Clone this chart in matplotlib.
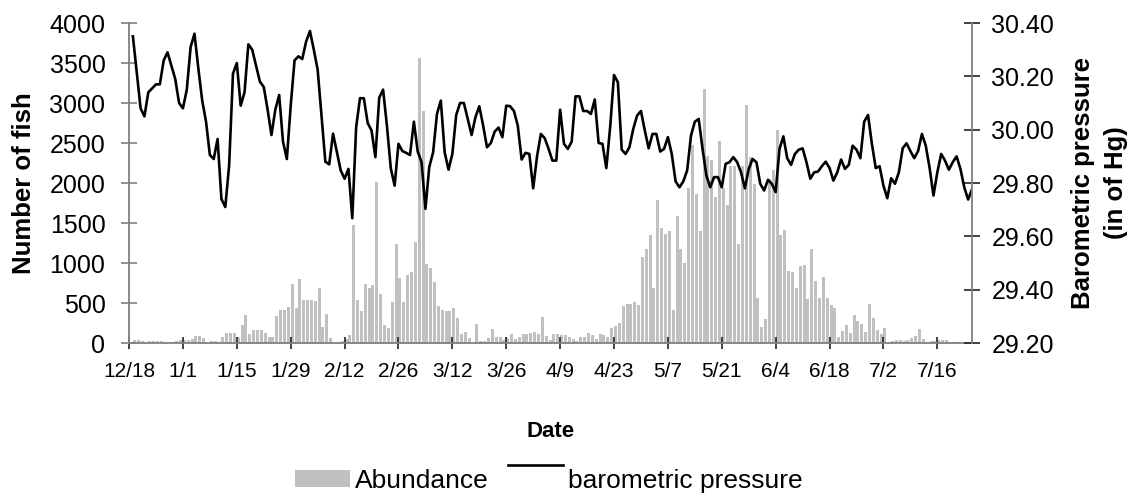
import matplotlib.pyplot as plt
import numpy as np
import pandas as pd
from matplotlib.lines import Line2D
from matplotlib.legend_handler import HandlerLine2D

plt.rcParams['font.family'] = ['Liberation Sans', 'DejaVu Sans']

# daily counts and pressure, starting 12/19
start = pd.Timestamp('2002-12-18')
abundance = [
    37, 37, 25, 12, 25, 25, 25, 25, 12, 12, 12, 20, 37, 37,
    37, 50, 92, 92, 62, 0, 25, 25, 8, 75, 125, 125, 125, 75,
    225, 350, 112, 162, 162, 162, 125, 79, 79, 337, 412, 412, 450, 737,
    437, 800, 542, 542, 542, 529, 687, 204, 362, 62, 0, 12, 20, 46,
    100, 1475, 537, 400, 737, 687, 725, 2017, 612, 225, 187, 512, 1237, 812,
    512, 850, 887, 1262, 3560, 2900, 987, 937, 762, 462, 412, 400, 400, 437,
    312, 112, 137, 62, 0, 237, 20, 20, 62, 175, 75, 75, 37, 62,
    112, 50, 75, 112, 112, 125, 137, 112, 325, 87, 37, 112, 112, 100,
    100, 75, 50, 25, 75, 75, 125, 100, 50, 112, 100, 75, 187, 212,
    250, 462, 487, 487, 512, 475, 1075, 1175, 1350, 687, 1787, 1437, 1362, 1400,
    412, 1587, 1175, 1000, 1937, 2471, 1862, 1400, 3179, 2333, 2283, 1825, 2521, 1937,
    1721, 2213, 2213, 1242, 2213, 2971, 2325, 1992, 562, 200, 296, 2054, 2158, 2658,
    1350, 1412, 900, 883, 687, 962, 971, 550, 1175, 775, 560, 821, 560, 475,
    437, 79, 150, 221, 125, 350, 275, 233, 137, 483, 308, 158, 110, 183,
    0, 21, 33, 33, 21, 33, 62, 87, 175, 50, 12, 21, 21, 33,
    33, 33, 8, 8, 8, 0, 0, 0, 0,
]
pressure = [
    30.35, 30.215, 30.08, 30.05, 30.14, 30.155, 30.17, 30.17, 30.26, 30.29, 30.24, 30.19, 30.10, 30.08,
    30.15, 30.31, 30.36, 30.23, 30.11, 30.03, 29.905, 29.89, 29.965, 29.74, 29.71, 29.865, 30.21, 30.25,
    30.09, 30.14, 30.32, 30.30, 30.24, 30.18, 30.16, 30.075, 29.98, 30.075, 30.13, 29.955, 29.89, 30.09,
    30.26, 30.275, 30.265, 30.33, 30.37, 30.30, 30.225, 30.05, 29.88, 29.87, 29.985, 29.915, 29.847, 29.816,
    29.853, 29.668, 30.009, 30.118, 30.118, 30.025, 29.997, 29.897, 30.12, 30.15, 30.015, 29.856, 29.79, 29.947,
    29.92, 29.913, 29.905, 30.03, 29.918, 29.878, 29.703, 29.86, 29.915, 30.059, 30.109, 29.915, 29.85, 29.909,
    30.055, 30.10, 30.10, 30.04, 29.98, 30.047, 30.088, 30.015, 29.934, 29.95, 29.993, 30.008, 29.972, 30.09,
    30.088, 30.07, 30.015, 29.888, 29.913, 29.909, 29.78, 29.90, 29.984, 29.968, 29.928, 29.884, 29.884, 30.075,
    29.947, 29.928, 29.955, 30.125, 30.125, 30.07, 30.07, 30.059, 30.113, 29.95, 29.947, 29.856, 30.01, 30.205,
    30.178, 29.925, 29.909, 29.934, 30.003, 30.053, 30.07, 29.997, 29.93, 29.984, 29.984, 29.918, 29.928, 29.972,
    29.909, 29.806, 29.784, 29.806, 29.847, 29.978, 30.03, 30.04, 29.928, 29.828, 29.784, 29.822, 29.822, 29.784,
    29.872, 29.878, 29.897, 29.878, 29.84, 29.78, 29.853, 29.89, 29.878, 29.797, 29.772, 29.812, 29.797, 29.766,
    29.928, 29.975, 29.893, 29.868, 29.909, 29.925, 29.93, 29.878, 29.816, 29.84, 29.843, 29.863, 29.88, 29.856,
    29.809, 29.84, 29.888, 29.853, 29.868, 29.94, 29.925, 29.893, 30.03, 30.055, 29.947, 29.856, 29.863, 29.79,
    29.743, 29.818, 29.797, 29.84, 29.93, 29.949, 29.92, 29.893, 29.92, 29.984, 29.94, 29.856, 29.753, 29.84,
    29.909, 29.884, 29.85, 29.878, 29.90, 29.853, 29.784, 29.738, 29.776,
]

days = np.arange(1, len(pressure) + 1)
tick_days = np.arange(0, 211, 14)
tick_labels = [f"{t.month}/{t.day}" for t in start + pd.to_timedelta(tick_days, unit='D')]
p_ticks = np.arange(29.2, 30.41, 0.2)

grey = '#808080'


class TopLine(HandlerLine2D):
    # legend line sits a little above the top of the bar swatch
    def create_artists(self, legend, orig_handle, xdescent, ydescent,
                       width, height, fontsize, trans):
        artists = super().create_artists(legend, orig_handle, xdescent, ydescent,
                                         width, height, fontsize, trans)
        for a in artists:
            a.set_ydata(np.full(len(a.get_xdata()), height * 1.35))
        return artists


fig = plt.figure(figsize=(11.38, 4.98), dpi=100)
ax = fig.add_axes([0.1134, 0.3112, 0.7407, 0.6426])

bars = ax.bar(days + 0.38, abundance, width=0.78, color='#c0c0c0', linewidth=0)
ax.set_xlim(0, 219)
ax.set_ylim(0, 4000)
ax.set_yticks(np.arange(0, 4001, 500))
ax.set_xticks(tick_days)
ax.set_xticklabels(tick_labels)

ax2 = ax.twinx()
line, = ax2.plot(days, pressure, color='black', lw=1.9)
ax2.set_ylim(29.2, 30.4)
ax2.set_yticks(p_ticks)
ax2.set_yticklabels([f"{v:.2f}" for v in p_ticks])

for a in (ax, ax2):
    for s in a.spines.values():
        s.set_visible(False)
for s in (ax.spines['left'], ax.spines['bottom'], ax2.spines['right']):
    s.set_visible(True)
    s.set_color(grey)
    s.set_linewidth(1.3)

ax.tick_params(axis='y', direction='inout', length=12, width=1.2, color=grey,
               labelsize=18, pad=11)
ax.tick_params(axis='x', direction='inout', length=9, width=1.2, color='#222222',
               labelsize=15, pad=9)
ax2.tick_params(axis='y', direction='inout', length=12, width=1.2, color='#222222',
                labelsize=18, pad=8)

ax.set_ylabel('Number of fish', fontsize=18.5, fontweight='bold')
ax.yaxis.set_label_coords(-0.110, 0.5)
ax2.set_ylabel('Barometric pressure\n(in of Hg)', fontsize=18.5, fontweight='bold',
               linespacing=1.45)
ax2.yaxis.set_label_coords(1.118, 0.5)
ax.set_xlabel('Date', fontsize=16, fontweight='bold')
ax.xaxis.set_label_coords(0.5, -0.244)

fig.legend([bars, line], ['Abundance', 'barometric pressure'],
           handler_map={Line2D: TopLine()},
           loc='center', bbox_to_anchor=(0.482, 0.034), ncol=2, frameon=False,
           fontsize=19, handlelength=2.1, handleheight=0.6,
           handletextpad=0.18, columnspacing=0.72)

fig.savefig('out.png', dpi=100)
